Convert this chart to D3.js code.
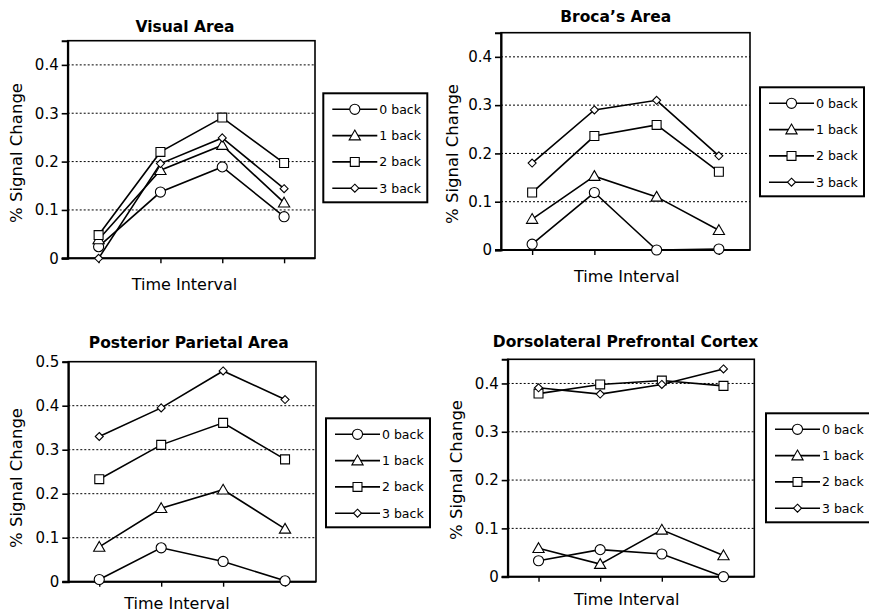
<!DOCTYPE html>
<html>
<head>
<meta charset="utf-8">
<script src="https://cdn.jsdelivr.net/npm/d3@7"></script>
<style>
  body { margin: 0; background: #fff; }
  svg { display: block; font-family: "DejaVu Sans", sans-serif; }
</style>
</head>
<body>
<div id="chart"></div>
<script>
// n-back conditions and the four time intervals
const seriesNames = ['0 back', '1 back', '2 back', '3 back'];
const intervals = [1, 2, 3, 4];

// % signal change, one row per condition (0..3 back)
const visualArea = [
    [0.024, 0.137, 0.189, 0.086],
    [0.039, 0.182, 0.234, 0.115],
    [0.048, 0.220, 0.291, 0.197],
    [0.000, 0.196, 0.249, 0.144]
];
const brocasArea = [
    [0.012, 0.119, 0.000, 0.002],
    [0.064, 0.153, 0.110, 0.041],
    [0.119, 0.236, 0.259, 0.162],
    [0.180, 0.290, 0.310, 0.195]
];
const parietalArea = [
    [0.005, 0.077, 0.046, 0.002],
    [0.079, 0.167, 0.209, 0.120],
    [0.233, 0.311, 0.361, 0.278],
    [0.330, 0.395, 0.479, 0.414]
];
const prefrontalCortex = [
    [0.033, 0.056, 0.047, 0.000],
    [0.059, 0.026, 0.097, 0.044],
    [0.379, 0.398, 0.406, 0.395],
    [0.391, 0.378, 0.398, 0.430]
];

const yTicksLow = [0, 0.1, 0.2, 0.3, 0.4];
const yTicksHigh = [0, 0.1, 0.2, 0.3, 0.4, 0.5];

const width = 869, height = 613;

// layout of each panel: plot box, titles and legend placement
const panels = [
    { title: 'Visual Area', data: visualArea, ticks: yTicksLow, yMax: 0.45,
      box: [67.7, 40.7, 315, 258.3], titleXY: [185, 31.5],
      xTitleXY: [184.5, 290], yTitleXY: [22, 153], legendXY: [323.3, 93.3] },
    { title: 'Broca\u2019s Area', data: brocasArea, ticks: yTicksLow, yMax: 0.45,
      box: [501, 32.7, 750, 250], titleXY: [615.7, 22],
      xTitleXY: [626.7, 281.7], yTitleXY: [458, 154], legendXY: [760, 87.3] },
    { title: 'Posterior Parietal Area', data: parietalArea, ticks: yTicksHigh, yMax: 0.5,
      box: [68.3, 361.7, 316, 581.7], titleXY: [188.8, 348.3],
      xTitleXY: [177, 609], yTitleXY: [22, 478], legendXY: [326, 418.3] },
    { title: 'Dorsolateral Prefrontal Cortex', data: prefrontalCortex, ticks: yTicksLow, yMax: 0.45,
      box: [507.7, 359.3, 754.3, 576.7], titleXY: [625.5, 346.7],
      xTitleXY: [626.7, 605], yTitleXY: [462, 470], legendXY: [766, 413.3] }
];

const svg = d3.select('#chart')
    .append('svg')
    .attr('width', width)
    .attr('height', height);

// square diamond (rotated square), smaller than d3's tall diamond
const squareDiamond = {
    draw(context, size) {
        const r = Math.sqrt(size / 2);
        context.moveTo(0, -r);
        context.lineTo(r, 0);
        context.lineTo(0, r);
        context.lineTo(-r, 0);
        context.closePath();
    }
};

// marker shapes per condition
const markers = [d3.symbolCircle, d3.symbolTriangle, d3.symbolSquare, squareDiamond];
const markerSizes = [80, 55, 80, 32];

const drawMarker = (g, i, x, y) => {
    g.append('path')
        .attr('d', d3.symbol().type(markers[i]).size(markerSizes[i])())
        .attr('transform', `translate(${x},${y + (i === 1 ? 1 : 0)})`)
        .attr('fill', '#fff')
        .attr('stroke', '#000')
        .attr('stroke-width', 1.1);
};

const plot = (p) => {
    const [x0, y0, x1, y1] = p.box;

    const xScale = d3.scalePoint()
        .domain(intervals)
        .range([x0, x1])
        .padding(0.5);
    const yScale = d3.scaleLinear()
        .domain([0, p.yMax])
        .range([y1, y0]);

    const g = svg.append('g');

    // dotted gridlines
    g.append('g')
        .selectAll('line')
        .data(p.ticks.filter(t => t > 0 && t < p.yMax))
        .enter()
        .append('line')
        .attr('x1', x0)
        .attr('x2', x1)
        .attr('y1', d => yScale(d))
        .attr('y2', d => yScale(d))
        .attr('stroke', '#000')
        .attr('stroke-width', 1)
        .attr('stroke-dasharray', '2,2');

    // frame
    g.append('rect')
        .attr('x', x0)
        .attr('y', y0)
        .attr('width', x1 - x0)
        .attr('height', y1 - y0)
        .attr('fill', 'none')
        .attr('stroke', '#000')
        .attr('stroke-width', 1.6);

    const yAxis = d3.axisLeft(yScale)
        .tickValues(p.ticks)
        .tickSize(6)
        .tickPadding(3)
        .tickFormat(d => d === 0 ? '0' : d3.format('.1f')(d));

    const ya = g.append('g')
        .attr('transform', `translate(${x0},0)`)
        .call(yAxis);
    ya.select('.domain').attr('stroke-width', 2);
    ya.selectAll('.tick line').attr('stroke-width', 1.6);
    ya.selectAll('.tick text')
        .attr('fill', '#000')
        .style('font-size', '15px')
        .style('font-family', '"DejaVu Sans", sans-serif');

    const xAxis = d3.axisBottom(xScale)
        .tickSize(5)
        .tickFormat('');

    const xa = g.append('g')
        .attr('transform', `translate(0,${y1})`)
        .call(xAxis);
    xa.select('.domain')
        .attr('d', `M${x0 - 6},0H${x1}`)
        .attr('stroke-width', 2);
    xa.selectAll('.tick line').attr('stroke-width', 1.4);

    // series lines then markers
    const line = d3.line()
        .x((d, i) => xScale(intervals[i]))
        .y(d => yScale(d));

    p.data.forEach(values => {
        g.append('path')
            .attr('d', line(values))
            .attr('fill', 'none')
            .attr('stroke', '#000')
            .attr('stroke-width', 1.6);
    });
    p.data.forEach((values, s) => {
        values.forEach((v, i) => drawMarker(g, s, xScale(intervals[i]), yScale(v)));
    });

    // titles
    g.append('text')
        .attr('x', p.titleXY[0])
        .attr('y', p.titleXY[1])
        .attr('text-anchor', 'middle')
        .style('font-size', '15.5px')
        .style('font-weight', 'bold')
        .text(p.title);

    g.append('text')
        .attr('x', p.xTitleXY[0])
        .attr('y', p.xTitleXY[1])
        .attr('text-anchor', 'middle')
        .style('font-size', '16px')
        .text('Time Interval');

    g.append('text')
        .attr('transform', `translate(${p.yTitleXY[0]},${p.yTitleXY[1]}) rotate(-90)`)
        .attr('text-anchor', 'middle')
        .style('font-size', '16.5px')
        .text('% Signal Change');

    // legend
    const [lx, ly] = p.legendXY;
    const lg = g.append('g').attr('transform', `translate(${lx},${ly})`);
    lg.append('rect')
        .attr('width', 104)
        .attr('height', 109)
        .attr('fill', '#fff')
        .attr('stroke', '#000')
        .attr('stroke-width', 2);

    seriesNames.forEach((name, i) => {
        const ry = 16 + i * 26.3;
        lg.append('line')
            .attr('x1', 9)
            .attr('x2', 54)
            .attr('y1', ry)
            .attr('y2', ry)
            .attr('stroke', '#000')
            .attr('stroke-width', 1.6);
        drawMarker(lg, i, 31.5, ry);
        lg.append('text')
            .attr('x', 56)
            .attr('y', ry)
            .attr('dy', '0.36em')
            .style('font-size', '12.5px')
            .text(name);
    });
};

panels.forEach(plot);
</script>
</body>
</html>
